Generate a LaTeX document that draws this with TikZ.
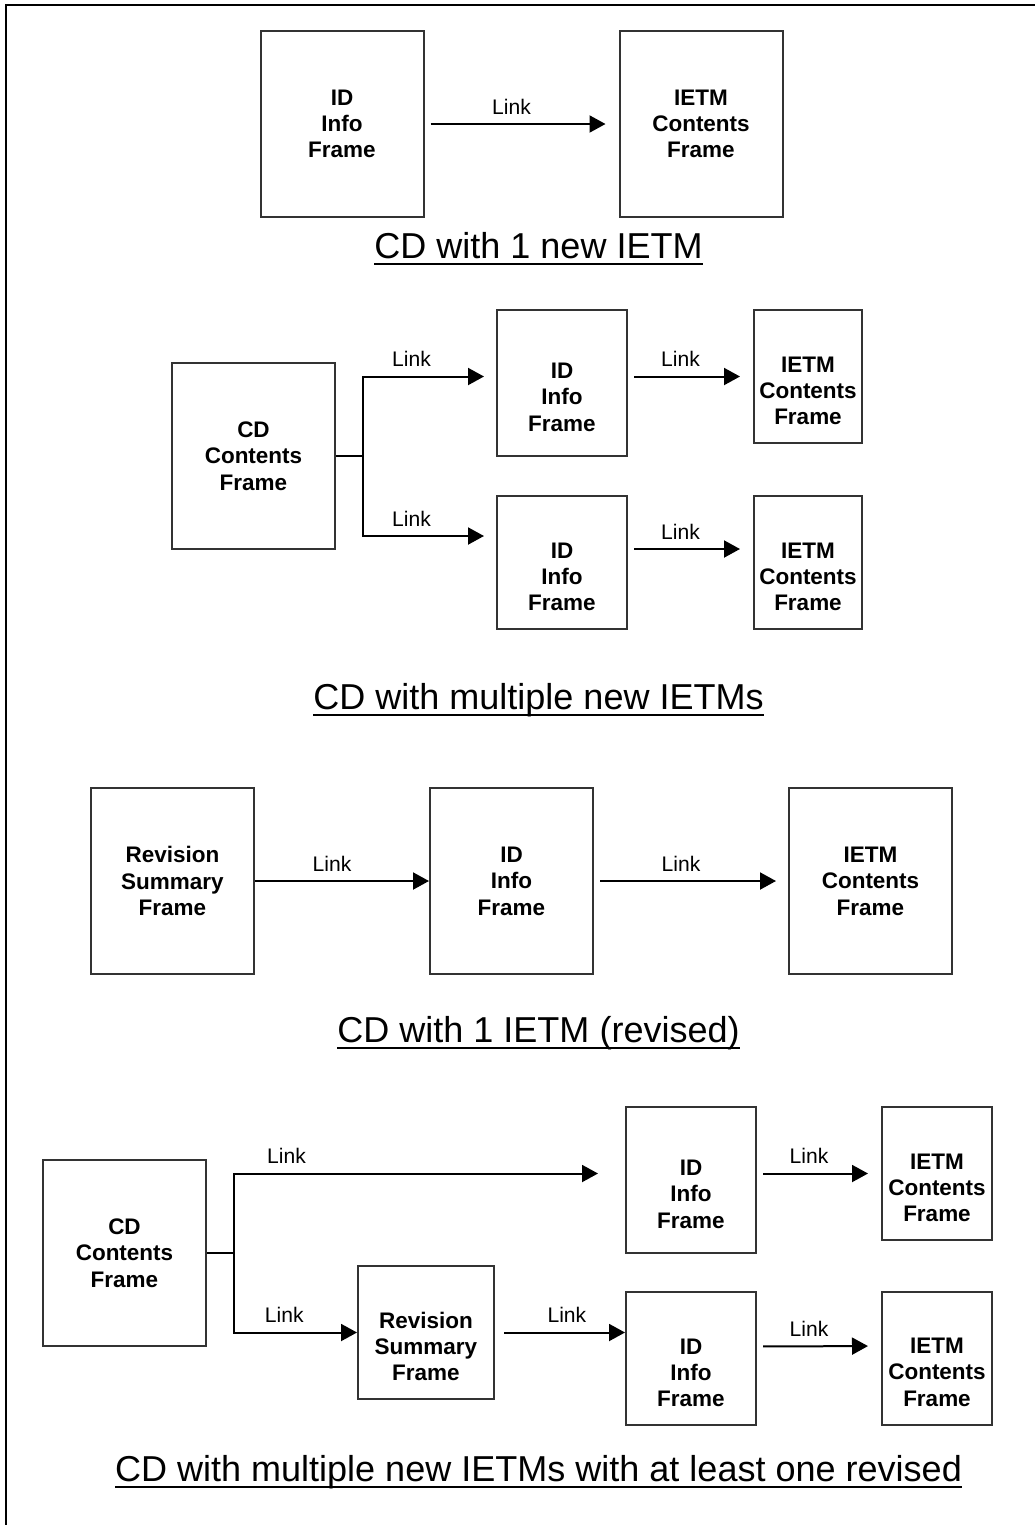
\documentclass[tikz,border=0pt]{standalone}
\usepackage{fontspec}
\setmainfont{Liberation Sans}
\usetikzlibrary{positioning, arrows.meta}
\newcommand{\titlebar}[1]{\setbox0\hbox{#1}\rlap{\rule[-4pt]{\wd0}{1.1pt}}\box0}
\tikzset{frame/.style={draw=black!80, line width=0.04cm, align=center, inner sep=2pt, font=\fontsize{12.8}{15}\selectfont\bfseries},
bigframe/.style={frame, minimum width=3.26cm, minimum height=3.72cm},
lift/.style={execute at begin node={\rule{0pt}{#1}}},
idframe/.style={frame, minimum width=2.6cm, minimum height=2.66cm, lift=55pt},
tallframe/.style={idframe, minimum height=2.92cm, lift=51.7pt},
wire/.style={line width=0.04cm},
link/.style={-{Triangle[length=0.32cm, width=0.34cm]}, line width=0.04cm, shorten <=0.12cm, shorten >=0.26cm},
lbl/.style={above, inner ysep=5pt, xshift=-0.2cm, font=\fontsize{12}{14}\selectfont},
caption/.style={anchor=base, font=\fontsize{20.5}{24}\selectfont}}

\begin{document}
\begin{tikzpicture}
  \useasboundingbox (0,0) rectangle (20.7,-30.5);
  \draw[line width=0.04cm] (0.12,-30.5) -- (0.12,-0.1) -- (20.7,-0.1);
  % 1 new IETM
  \node[bigframe] (idA) at (6.84,-2.48) {ID\\Info\\Frame};
  \node[bigframe, right=3.88cm of idA] (ietmA) {IETM\\Contents\\Frame};
  \draw[link] (idA) -- node[lbl]{Link} (ietmA);
  \node[caption] (capA) at (10.77,-5.16) {\titlebar{CD with 1 new IETM}};
  % multiple new IETMs
  \node[bigframe] (cdB) at (5.07,-9.12) {CD\\Contents\\Frame};
  \coordinate[right=0.54cm of cdB] (jB);
  \node[tallframe] (idB1) at (11.24,-7.66) {ID\\Info\\Frame};
  \node[idframe] (idB2) at (11.24,-11.25) {ID\\Info\\Frame};
  \node[idframe, minimum width=2.16cm] (ietmB1) at (16.16,-7.53) {IETM\\Contents\\Frame};
  \node[idframe, minimum width=2.16cm] (ietmB2) at (16.16,-11.25) {IETM\\Contents\\Frame};
  \draw[wire] (cdB) -- (jB);
  \draw[link, shorten <=0pt, shorten >=0.24cm] (jB) |- node[lbl, pos=0.72]{Link} (ietmB1 -| idB1.west);
  \draw[link, shorten <=0pt, shorten >=0.24cm] (jB) |- node[lbl, pos=0.72]{Link} ([yshift=0.53cm]idB2.west);
  \draw[link] (idB1.east |- ietmB1) -- node[lbl]{Link} (ietmB1);
  \draw[link] ([yshift=0.27cm]idB2.east) -- node[lbl]{Link} ([yshift=0.27cm]ietmB2.west);
  \node[caption] (capB) at (10.77,-14.18) {\titlebar{CD with multiple new IETMs}};
  % 1 IETM revised
  \node[bigframe] (revC) at (3.45,-17.62) {Revision\\Summary\\Frame};
  \node[bigframe, right=3.48cm of revC] (idC) {ID\\Info\\Frame};
  \node[bigframe, right=3.88cm of idC] (ietmC) {IETM\\Contents\\Frame};
  \draw[link, shorten <=0pt, shorten >=0pt] (revC) -- node[lbl]{Link} (idC);
  \draw[link, shorten >=0.24cm] (idC) -- node[lbl]{Link} (ietmC);
  \node[caption] (capC) at (10.77,-20.84) {\titlebar{CD with 1 IETM (revised)}};
  % multiple new IETMs, one revised
  \node[bigframe] (cdD) at (2.49,-25.06) {CD\\Contents\\Frame};
  \coordinate[right=0.54cm of cdD] (jD);
  \node[tallframe] (idD1) at (13.82,-23.6) {ID\\Info\\Frame};
  \node[idframe, minimum width=2.2cm] (ietmD1) at (18.74,-23.47) {IETM\\Contents\\Frame};
  \node[idframe, minimum width=2.72cm] (revD) at (8.52,-26.65) {Revision\\Summary\\Frame};
  \node[idframe] (idD2) at (13.82,-27.17) {ID\\Info\\Frame};
  \node[idframe, minimum width=2.2cm] (ietmD2) at (18.74,-27.16) {IETM\\Contents\\Frame};
  \draw[wire] (cdD) -- (jD);
  \draw[link, shorten <=0pt, shorten >=0.54cm] (jD) |- node[lbl, pos=0.58]{Link} (ietmD1 -| idD1.west);
  \draw[link, shorten <=0pt, shorten >=0pt] (jD) |- node[lbl, pos=0.745]{Link} (revD);
  \draw[link, shorten <=0.18cm, shorten >=0pt] (revD) -- node[lbl, pos=0.63]{Link} (revD -| idD2.west);
  \draw[link] (idD1.east |- ietmD1) -- node[lbl]{Link} (ietmD1);
  \draw[link] ([yshift=0.24cm]idD2.east) -- node[lbl]{Link} ([yshift=0.24cm]ietmD2.west);
  \node[caption] (capD) at (10.77,-29.62) {\titlebar{CD with multiple new IETMs with at least one revised}};
\end{tikzpicture}
\end{document}
